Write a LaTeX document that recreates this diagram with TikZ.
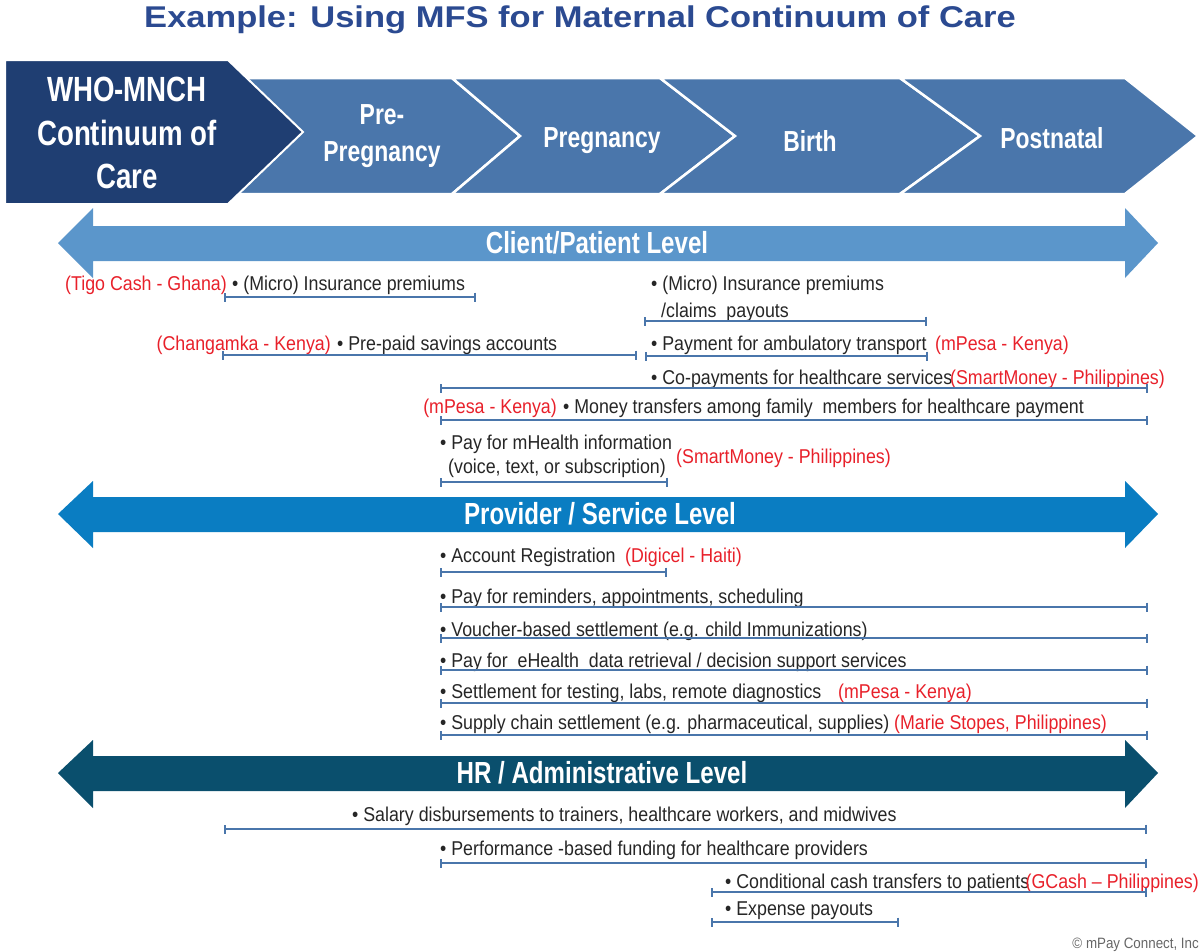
\documentclass[tikz,border=0pt]{standalone}
\usepackage{fontspec}
\setmainfont{Liberation Sans}
\newfontfamily\narrow{Liberation Sans}[FakeStretch=0.89]
\newfontfamily\cond{Liberation Sans}[FakeStretch=0.79]
\newfontfamily\wide{Liberation Sans}[FakeStretch=1.15]
\usetikzlibrary{arrows.meta}
\definecolor{title_blue}{RGB}{43,74,145}
\definecolor{chev_dark}{RGB}{31,62,114}
\definecolor{chev_mid}{RGB}{74,118,171}
\definecolor{lvl_client}{RGB}{91,150,203}
\definecolor{lvl_prov}{RGB}{10,125,194}
\definecolor{lvl_hr}{RGB}{10,79,109}
\definecolor{txt_gray}{RGB}{38,38,38}
\definecolor{src_red}{RGB}{232,32,42}
\definecolor{bar_blue}{RGB}{74,118,171}
\tikzstyle{chev}=[fill=chev_mid,draw=white,line width=2.5pt]
\tikzstyle{chevtxt}=[text=white,font=\cond\bfseries\fontsize{29}{37}\selectfont,
  align=center,inner sep=0pt]
\tikzstyle{lvltxt}=[text=white,font=\cond\bfseries\fontsize{30.5}{33}\selectfont,inner sep=0pt]
\tikzstyle{item}=[anchor=base west,inner sep=0pt,text=txt_gray,
  font=\narrow\fontsize{20}{24}\selectfont]
\tikzstyle{src}=[item,text=src_red]
\tikzstyle{srcl}=[item,anchor=base east,text=src_red]
\tikzstyle{rangebar}=[draw=bar_blue,line width=1.8pt,{Bar[width=9pt]}-{Bar[width=9pt]}]

\begin{document}
\begin{tikzpicture}[x=1pt,y=-1pt]
        \useasboundingbox (0,0) rectangle (1202,951);
        \node[font=\wide\bfseries\fontsize{30}{34}\selectfont,text=title_blue] (title) at (580,20)
          {Example: Using MFS for Maternal Continuum of Care};
        % stages
        \draw[chev] (228,78) -- (452,78) -- (520,136) -- (452,194) -- (228,194) -- cycle;
        \draw[chev] (452,78) -- (660,78) -- (735,136) -- (660,194) -- (452,194) -- (520,136) -- cycle;
        \draw[chev] (660,78) -- (900,78) -- (980,136) -- (900,194) -- (660,194) -- (735,136) -- cycle;
        \draw[chev] (900,78) -- (1125,78) -- (1198,136) -- (1125,194) -- (900,194) -- (980,136) -- cycle;
        \draw[chev,fill=chev_dark,line width=2pt] (5,60) -- (228,60) -- (303,132) -- (228,204) -- (5,204) -- cycle;
        \node[chevtxt,font=\cond\bfseries\fontsize{35}{43.5}\selectfont] (who) at (127,133) {WHO-MNCH\\Continuum of\\Care};
        \node[chevtxt] (prepreg) at (382,136) {Pre-\\Pregnancy};
        \node[chevtxt] (preg) at (602,141) {Pregnancy};
        \node[chevtxt] (birth) at (810,141) {Birth};
        \node[chevtxt] (post) at (1052,138) {Postnatal};
        % levels
        \fill[lvl_client] (58,243) -- (93,208) -- (93,226) -- (1125,226) -- (1125,208) -- (1158,243)
          -- (1125,278) -- (1125,261) -- (93,261) -- (93,278) -- cycle;
        \node[lvltxt] (client) at (597,243) {Client/Patient Level};
        \fill[lvl_prov] (58,514) -- (93,481) -- (93,497) -- (1125,497) -- (1125,481) -- (1158,514)
          -- (1125,548) -- (1125,532) -- (93,532) -- (93,548) -- cycle;
        \node[lvltxt] (provider) at (600,514) {Provider / Service Level};
        \fill[lvl_hr] (58,773) -- (93,740) -- (93,756) -- (1125,756) -- (1125,740) -- (1158,773)
          -- (1125,808) -- (1125,791) -- (93,791) -- (93,808) -- cycle;
        \node[lvltxt] (hr) at (602,773) {HR / Administrative Level};
        % client items
        \node[item] (c1) at (232,290) {• (Micro) Insurance premiums};
        \node[srcl] (c1s) at (227,290) {(Tigo Cash - Ghana)};
        \draw[rangebar] (224,297) -- (476,297);
        \node[item] (c2) at (651,290) {• (Micro) Insurance premiums};
        \node[item] (c2b) at (661,317) {/claims\ \ payouts};
        \draw[rangebar] (644,321) -- (927,321);
        \node[srcl] (c3s) at (331,350) {(Changamka - Kenya)};
        \node[item] (c3) at (337,350) {• Pre-paid savings accounts};
        \draw[rangebar] (222,355) -- (637,355);
        \node[item] (c4) at (651,350) {• Payment for ambulatory transport};
        \node[src] (c4s) at (935,350) {(mPesa - Kenya)};
        \draw[rangebar] (645,356) -- (928,356);
        \node[item] (c5) at (651,384) {• Co-payments for healthcare services};
        \node[srcl] (c5s) at (1165,384) {(SmartMoney - Philippines)};
        \draw[rangebar] (440,388) -- (1148,388);
        \node[srcl] (c6s) at (557,413) {(mPesa - Kenya)};
        \node[item] (c6) at (563,413) {• Money transfers among family\ \ members for healthcare payment};
        \draw[rangebar] (440,420) -- (1148,420);
        \node[item] (c7) at (440,449) {• Pay for mHealth information};
        \node[item] (c7b) at (448,473) {(voice, text, or subscription)};
        \node[src] (c7s) at (676,463) {(SmartMoney - Philippines)};
        \draw[rangebar] (440,482) -- (668,482);
        % provider items
        \node[item] (p1) at (440,562) {• Account Registration};
        \node[src] (p1s) at (625,562) {(Digicel - Haiti)};
        \draw[rangebar] (440,572) -- (667,572);
        \node[item] (p2) at (440,603) {• Pay for reminders, appointments, scheduling};
        \draw[rangebar] (440,607) -- (1148,607);
        \node[item] (p3) at (440,636) {• Voucher-based settlement (e.g. child Immunizations)};
        \draw[rangebar] (440,638) -- (1148,638);
        \node[item] (p4) at (440,667) {• Pay for\ \ eHealth\ \ data retrieval / decision support services};
        \draw[rangebar] (440,670) -- (1148,670);
        \node[item] (p5) at (440,698) {• Settlement for testing, labs, remote diagnostics};
        \node[src] (p5s) at (838,698) {(mPesa - Kenya)};
        \draw[rangebar] (440,703) -- (1148,703);
        \node[item] (p6) at (440,729) {• Supply chain settlement (e.g. pharmaceutical, supplies)};
        \node[src] (p6s) at (894,729) {(Marie Stopes, Philippines)};
        \draw[rangebar] (440,735) -- (1148,735);
        % hr items
        \node[item] (h1) at (352,821) {• Salary disbursements to trainers, healthcare workers, and midwives};
        \draw[rangebar] (224,829) -- (1147,829);
        \node[item] (h2) at (440,855) {• Performance -based funding for healthcare providers};
        \draw[rangebar] (440,863) -- (1147,863);
        \node[item] (h3) at (725,888) {• Conditional cash transfers to patients};
        \node[srcl] (h3s) at (1199,888) {(GCash – Philippines)};
        \draw[rangebar] (711,892) -- (1147,892);
        \node[item] (h4) at (725,915) {• Expense payouts};
        \draw[rangebar] (711,922) -- (899,922);
        \node[item,anchor=base east,text=black!60,font=\narrow\fontsize{15}{17}\selectfont] (copy) at (1199,948) {© mPay Connect, Inc};
    \end{tikzpicture}
\end{document}
